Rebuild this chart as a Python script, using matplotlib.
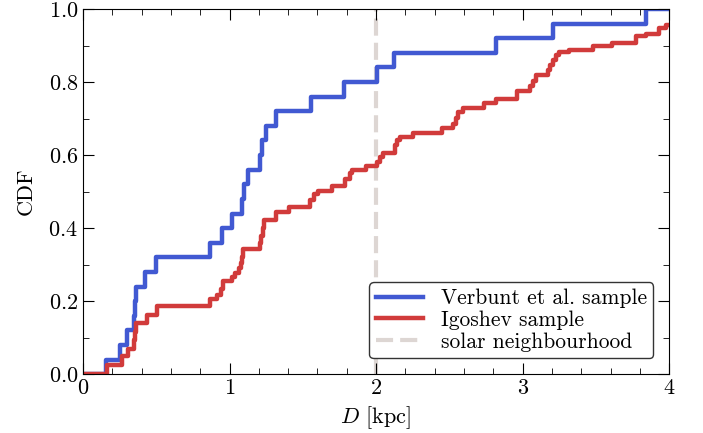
import matplotlib
matplotlib.use('Agg')
from matplotlib import pyplot as plt
from matplotlib.ticker import MultipleLocator
import numpy as np

# Distancias da amostra de Verbunt et al. (kpc)
verbunt_d = [0.157, 0.25, 0.30, 0.345, 0.355, 0.36, 0.423, 0.498, 0.867, 0.951,
             1.015, 1.083, 1.10, 1.128, 1.208, 1.22, 1.249, 1.315, 1.556, 1.784,
             2.009, 2.125, 2.819, 3.206, 3.843]

# Degraus da CDF da amostra de Igoshev (posicao, nivel)
igoshev_d = [0.162, 0.264, 0.31, 0.345, 0.355, 0.365, 0.435, 0.503, 0.867, 0.912,
             0.94, 0.958, 1.015, 1.037, 1.067, 1.075, 1.085, 1.094, 1.208, 1.218,
             1.225, 1.238, 1.32, 1.407, 1.55, 1.578, 1.603, 1.697, 1.788, 1.823,
             1.834, 1.93, 2.005, 2.027, 2.047, 2.13, 2.141, 2.16, 2.255, 2.452,
             2.528, 2.546, 2.562, 2.59, 2.733, 2.818, 2.963, 3.051, 3.07, 3.088,
             3.17, 3.188, 3.206, 3.229, 3.251, 3.313, 3.483, 3.609, 3.775, 3.843,
             3.927, 3.98]
igoshev_cdf = [0.025, 0.049, 0.070, 0.093, 0.116, 0.139, 0.162, 0.186, 0.205, 0.218,
               0.232, 0.255, 0.265, 0.276, 0.290, 0.305, 0.322, 0.344, 0.358, 0.378,
               0.399, 0.422, 0.444, 0.458, 0.477, 0.493, 0.503, 0.514, 0.534, 0.550,
               0.560, 0.571, 0.582, 0.595, 0.605, 0.627, 0.640, 0.650, 0.661, 0.673,
               0.686, 0.702, 0.719, 0.730, 0.742, 0.753, 0.776, 0.790, 0.803, 0.819,
               0.832, 0.847, 0.860, 0.874, 0.883, 0.889, 0.899, 0.908, 0.925, 0.933,
               0.947, 0.956]

d_solar = 2.0
xmax = 4.0

plt.rcParams['font.family'] = 'serif'
plt.rcParams['font.serif'] = ['cmr10']
plt.rcParams['mathtext.fontset'] = 'cm'
plt.rcParams['axes.formatter.use_mathtext'] = True

fig, ax = plt.subplots(figsize=(7.03, 4.33), dpi=100)
fig.subplots_adjust(left=0.118, right=0.952, bottom=0.136, top=0.979)

# CDF empirica de Verbunt
d = np.sort(verbunt_d)
cdf = np.arange(1, len(d) + 1) / len(d)
ax.step(np.r_[0, d, xmax], np.r_[0, cdf, cdf[-1]], where='post',
        color='#4159d2', lw=3.2, label='Verbunt et al. sample')

# CDF de Igoshev
ax.step(np.r_[0, igoshev_d, xmax], np.r_[0, igoshev_cdf, igoshev_cdf[-1]], where='post',
        color='#d13b3b', lw=3.2, label='Igoshev sample')

ax.axvline(d_solar, color='#ddd6d3', lw=3, dashes=(4.1, 1.7), zorder=1,
           label='solar neighbourhood')

ax.set_xlim(0, xmax)
ax.set_ylim(0, 1)
ax.xaxis.set_major_locator(MultipleLocator(1))
ax.xaxis.set_minor_locator(MultipleLocator(0.2))
ax.yaxis.set_major_locator(MultipleLocator(0.2))
ax.yaxis.set_minor_locator(MultipleLocator(0.1))
ax.tick_params(which='both', direction='in', top=True, right=True, labelsize=16)
ax.tick_params(which='major', length=8)
ax.tick_params(which='minor', length=4)

ax.set_xlabel(r'$D$ [kpc]', fontsize=16)
ax.set_ylabel('CDF', fontsize=16, labelpad=9)

leg = ax.legend(loc='lower right', fontsize=15.5, handlelength=2.2, borderaxespad=0.75,
                framealpha=1, edgecolor='#333333', labelspacing=0.1, borderpad=0.3)
leg.get_frame().set_linewidth(1.0)

fig.savefig('out.png', dpi=100)
